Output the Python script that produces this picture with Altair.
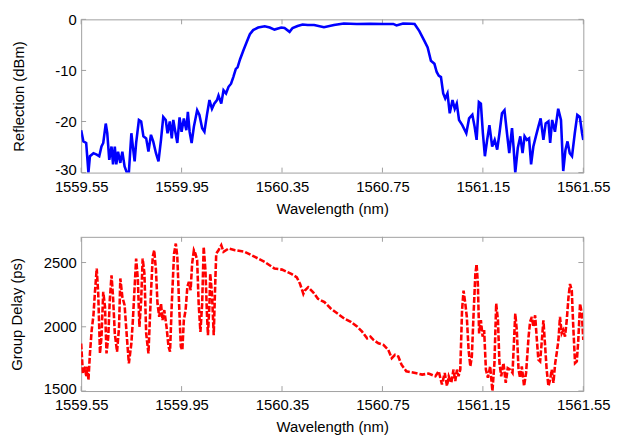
import altair as alt
import pandas as pd

# ---- Reflection spectrum (top panel) ----
refl_wl = [1559.550, 1559.559, 1559.570, 1559.579, 1559.585, 1559.599, 1559.612, 1559.622,
           1559.631, 1559.638, 1559.648, 1559.654, 1559.662, 1559.671, 1559.677, 1559.684,
           1559.690, 1559.697, 1559.706, 1559.714, 1559.723, 1559.732, 1559.740, 1559.750,
           1559.756, 1559.763, 1559.769, 1559.780, 1559.789, 1559.798, 1559.809, 1559.818,
           1559.828, 1559.837, 1559.848, 1559.858, 1559.868, 1559.877, 1559.887, 1559.894,
           1559.903, 1559.911, 1559.917, 1559.924, 1559.933, 1559.942, 1559.950, 1559.959,
           1559.969, 1559.975, 1559.982, 1559.990, 1559.999, 1560.012, 1560.021, 1560.032,
           1560.041, 1560.051, 1560.061, 1560.071, 1560.080, 1560.091, 1560.097, 1560.108,
           1560.117, 1560.127, 1560.137, 1560.147, 1560.156, 1560.166, 1560.173, 1560.183,
           1560.196, 1560.209, 1560.222, 1560.235, 1560.255, 1560.281, 1560.301, 1560.320,
           1560.347, 1560.360, 1560.380, 1560.392, 1560.412, 1560.432, 1560.452, 1560.478,
           1560.517, 1560.557, 1560.596, 1560.648, 1560.701, 1560.754, 1560.793, 1560.806,
           1560.832, 1560.865, 1560.878, 1560.897, 1560.917, 1560.930, 1560.943, 1560.957,
           1560.966, 1560.974, 1560.983, 1560.992, 1561.000, 1561.009, 1561.018, 1561.029,
           1561.038, 1561.046, 1561.055, 1561.068, 1561.084, 1561.095, 1561.108, 1561.117,
           1561.125, 1561.134, 1561.142, 1561.150, 1561.158, 1561.167, 1561.176, 1561.187,
           1561.197, 1561.207, 1561.216, 1561.226, 1561.236, 1561.246, 1561.255, 1561.266,
           1561.272, 1561.279, 1561.289, 1561.299, 1561.308, 1561.316, 1561.325, 1561.334,
           1561.342, 1561.351, 1561.361, 1561.371, 1561.380, 1561.391, 1561.400, 1561.411,
           1561.418, 1561.426, 1561.437, 1561.450, 1561.461, 1561.470, 1561.479, 1561.487,
           1561.496, 1561.505, 1561.516, 1561.526, 1561.536, 1561.545, 1561.550]
refl_db = [-21.7, -23.9, -24.2, -30.0, -26.8, -26.2, -26.5, -26.8,
           -24.9, -24.2, -20.4, -22.3, -27.5, -24.9, -28.4, -24.9,
           -28.4, -25.9, -28.1, -25.9, -28.8, -30.0, -30.0, -22.3,
           -24.9, -27.8, -24.2, -19.7, -20.0, -22.9, -23.3, -25.9,
           -22.6, -23.9, -26.2, -27.8, -23.6, -19.1, -19.7, -22.3,
           -20.0, -23.3, -19.7, -21.7, -24.2, -19.2, -22.0, -19.4,
           -21.7, -18.1, -22.0, -24.2, -21.0, -17.8, -18.7, -21.3,
           -22.0, -18.7, -15.8, -17.5, -16.5, -15.8, -14.9, -16.5,
           -13.9, -14.5, -13.2, -12.6, -11.3, -9.7, -9.4, -7.8,
           -6.1, -4.5, -2.9, -2.1, -1.6, -1.35, -1.6, -2.0,
           -1.6, -1.7, -2.45, -1.7, -1.3, -1.0, -1.1, -1.1,
           -1.55, -1.1, -0.8, -0.9, -0.85, -0.9, -0.9, -1.2,
           -0.8, -0.85, -0.9, -2.3, -4.2, -5.5, -8.1, -8.7,
           -10.3, -11.0, -11.3, -14.5, -15.5, -14.5, -18.4, -15.8,
           -17.5, -16.5, -19.7, -20.7, -22.3, -19.4, -18.7, -21.0,
           -23.6, -16.2, -16.5, -22.3, -26.8, -23.6, -20.7, -24.9,
           -23.6, -25.5, -22.3, -18.4, -17.8, -22.3, -26.2, -21.3,
           -24.9, -30.0, -25.2, -22.9, -26.2, -22.9, -23.6, -23.3,
           -28.4, -24.9, -22.9, -21.0, -19.4, -23.6, -20.4, -20.0,
           -24.2, -19.7, -22.0, -17.5, -19.7, -29.7, -25.5, -23.9,
           -26.2, -26.8, -22.3, -18.7, -19.1, -22.3, -23.6]

# ---- Group delay (bottom panel) ----
gd_wl = [1559.550, 1559.557, 1559.566, 1559.570, 1559.575, 1559.579, 1559.585, 1559.592,
         1559.599, 1559.605, 1559.612, 1559.618, 1559.625, 1559.631, 1559.638, 1559.645,
         1559.651, 1559.658, 1559.664, 1559.671, 1559.677, 1559.684, 1559.693, 1559.701,
         1559.706, 1559.714, 1559.723, 1559.732, 1559.740, 1559.750, 1559.756, 1559.769,
         1559.776, 1559.782, 1559.789, 1559.795, 1559.802, 1559.809, 1559.818, 1559.828,
         1559.835, 1559.841, 1559.848, 1559.854, 1559.861, 1559.868, 1559.874, 1559.881,
         1559.890, 1559.898, 1559.904, 1559.911, 1559.920, 1559.927, 1559.933, 1559.940,
         1559.947, 1559.953, 1559.959, 1559.966, 1559.973, 1559.979, 1559.986, 1559.992,
         1559.999, 1560.005, 1560.012, 1560.018, 1560.025, 1560.032, 1560.038, 1560.045,
         1560.051, 1560.055, 1560.061, 1560.064, 1560.071, 1560.078, 1560.084, 1560.088,
         1560.097, 1560.108, 1560.117, 1560.137, 1560.163, 1560.202, 1560.242, 1560.281,
         1560.320, 1560.350, 1560.389, 1560.409, 1560.422, 1560.435, 1560.441, 1560.454,
         1560.474, 1560.493, 1560.519, 1560.545, 1560.571, 1560.598, 1560.624, 1560.650,
         1560.669, 1560.689, 1560.702, 1560.715, 1560.734, 1560.754, 1560.773, 1560.787,
         1560.800, 1560.813, 1560.826, 1560.845, 1560.881, 1560.908, 1560.934, 1560.961,
         1560.974, 1560.987, 1560.998, 1561.007, 1561.014, 1561.024, 1561.033, 1561.040,
         1561.047, 1561.053, 1561.060, 1561.067, 1561.073, 1561.080, 1561.086, 1561.093,
         1561.100, 1561.106, 1561.113, 1561.120, 1561.125, 1561.130, 1561.135, 1561.142,
         1561.149, 1561.155, 1561.162, 1561.170, 1561.179, 1561.188, 1561.196, 1561.203,
         1561.210, 1561.216, 1561.223, 1561.232, 1561.241, 1561.249, 1561.259, 1561.268,
         1561.279, 1561.285, 1561.292, 1561.298, 1561.305, 1561.314, 1561.322, 1561.332,
         1561.338, 1561.345, 1561.351, 1561.358, 1561.365, 1561.371, 1561.378, 1561.385,
         1561.391, 1561.398, 1561.404, 1561.411, 1561.418, 1561.424, 1561.431, 1561.438,
         1561.444, 1561.451, 1561.457, 1561.464, 1561.470, 1561.477, 1561.484, 1561.491,
         1561.497, 1561.504, 1561.510, 1561.517, 1561.524, 1561.530, 1561.537, 1561.544,
         1561.550]
gd_ps = [1870, 1637, 1689, 1611, 1689, 1585, 1793, 1974,
         2091, 2272, 2453, 2259, 1793, 1922, 2272, 2155,
         1793, 1922, 2207, 2401, 2233, 1948, 1806, 2000,
         2376, 2233, 2168, 1922, 1715, 1870, 2052, 2531,
         2363, 2000, 2207, 2531, 2414, 1948, 1793, 2259,
         2544, 2596, 2440, 2181, 2078, 2181, 2052, 2130,
         2000, 1845, 1806, 2181, 2570, 2648, 2544, 2181,
         1845, 1819, 2052, 2130, 2311, 2350, 2285, 2492,
         2596, 2570, 2518, 2181, 1961, 2181, 2622, 2440,
         2104, 1935, 2181, 2414, 2259, 1935, 2337, 2570,
         2596, 2635, 2583, 2609, 2596, 2583, 2544, 2505,
         2453, 2445, 2410, 2385, 2333, 2256, 2282, 2308,
         2269, 2218, 2192, 2141, 2103, 2064, 2038, 2000,
         1962, 1910, 1923, 1897, 1872, 1859, 1821, 1756,
         1782, 1769, 1705, 1654, 1641, 1628, 1636, 1615,
         1654, 1551, 1641, 1539, 1615, 1564, 1667, 1577,
         1667, 1615, 1667, 2128, 2282, 2180, 2077, 1821,
         1692, 1769, 2103, 2410, 2487, 2333, 1949, 2051,
         1923, 1974, 1667, 1603, 1692, 1500, 1718, 2180,
         2051, 1718, 1615, 1718, 1564, 1679, 1667, 1641,
         2103, 1974, 1667, 1603, 1692, 1539, 1641, 1923,
         2038, 2077, 2000, 2090, 1897, 1744, 1731, 1897,
         2051, 1846, 1667, 1539, 1590, 1667, 1564, 1718,
         1795, 1897, 2077, 1949, 1974, 1923, 2051, 2231,
         2333, 2282, 2000, 1718, 1731, 1897, 2180, 2103,
         1897]

x_ticks = [1559.55, 1559.95, 1560.35, 1560.75, 1561.15, 1561.55]
refl_ticks = [-30, -20, -10, 0]
gd_ticks = [1500, 2000, 2500]

W = 508
H1 = 155
H2 = 156
FONT = "Liberation Sans"
FRAME = "#a0a0a0"
TICK_LEN = 5

refl_df = pd.DataFrame({"wl": refl_wl, "db": refl_db})
gd_df = pd.DataFrame({"wl": gd_wl, "ps": gd_ps})
xt_df = pd.DataFrame({"t": x_ticks})

x_scale = alt.Scale(domain=[1559.55, 1561.55], nice=False, zero=False)


def x_axis():
    return alt.Axis(values=x_ticks, format=".2f", title="Wavelength (nm)",
                    domain=False, ticks=False, grid=False, labelPadding=7,
                    titlePadding=7, labelFlush=False)


def panel(df, yfield, ytitle, ydomain, yticks, h, color, dash, title_x):
    y_scale = alt.Scale(domain=ydomain, nice=False, zero=False)
    low = ydomain[0]
    y_axis = alt.Axis(values=yticks, title=ytitle, domain=False, ticks=False,
                      grid=False, labelPadding=5, labelExpr="datum.value + ''",
                      labelOffset={"condition": {"test": f"datum.value == {low}", "value": -3},
                                   "value": 0},
                      titleX=title_x, titleBaseline="middle")
    line_kwargs = dict(color=color, strokeWidth=2.6, clip=True)
    if dash:
        line_kwargs["strokeDash"] = dash
    line = alt.Chart(df).mark_line(**line_kwargs).encode(
        x=alt.X("wl:Q", scale=x_scale, axis=x_axis()),
        y=alt.Y(f"{yfield}:Q", scale=y_scale, axis=y_axis),
    )
    yt_df = pd.DataFrame({"v": yticks})
    tb = alt.Chart(xt_df).mark_rule(color=FRAME, strokeWidth=1).encode(
        x=alt.X("t:Q", scale=x_scale), y=alt.value(h), y2=alt.value(h - TICK_LEN))
    tt = alt.Chart(xt_df).mark_rule(color=FRAME, strokeWidth=1).encode(
        x=alt.X("t:Q", scale=x_scale), y=alt.value(0), y2=alt.value(TICK_LEN))
    tl = alt.Chart(yt_df).mark_rule(color=FRAME, strokeWidth=1).encode(
        y=alt.Y("v:Q", scale=y_scale), x=alt.value(0), x2=alt.value(TICK_LEN))
    tr = alt.Chart(yt_df).mark_rule(color=FRAME, strokeWidth=1).encode(
        y=alt.Y("v:Q", scale=y_scale), x=alt.value(W), x2=alt.value(W - TICK_LEN))
    return alt.layer(tb, tt, tl, tr, line).properties(width=W, height=h)


top = panel(refl_df, "db", "Reflection (dBm)", [-30, 0], refl_ticks, H1,
            "#0000ff", None, -63)
bottom = panel(gd_df, "ps", "Group Delay (ps)", [1500, 2700], gd_ticks, H2,
               "#ff0000", [6, 2], -65)

chart = alt.vconcat(top, bottom, spacing=19).properties(
    padding={"left": 1, "top": 1, "right": 0, "bottom": 0},
    background="white",
).configure_view(
    stroke=FRAME, strokeWidth=1
).configure_axis(
    labelFont=FONT, titleFont=FONT, labelFontSize=15, titleFontSize=15,
    labelColor="#000000", titleColor="#000000", titleFontWeight="normal",
)

chart.save("out.html", embed_options={"renderer": "svg", "actions": False})
